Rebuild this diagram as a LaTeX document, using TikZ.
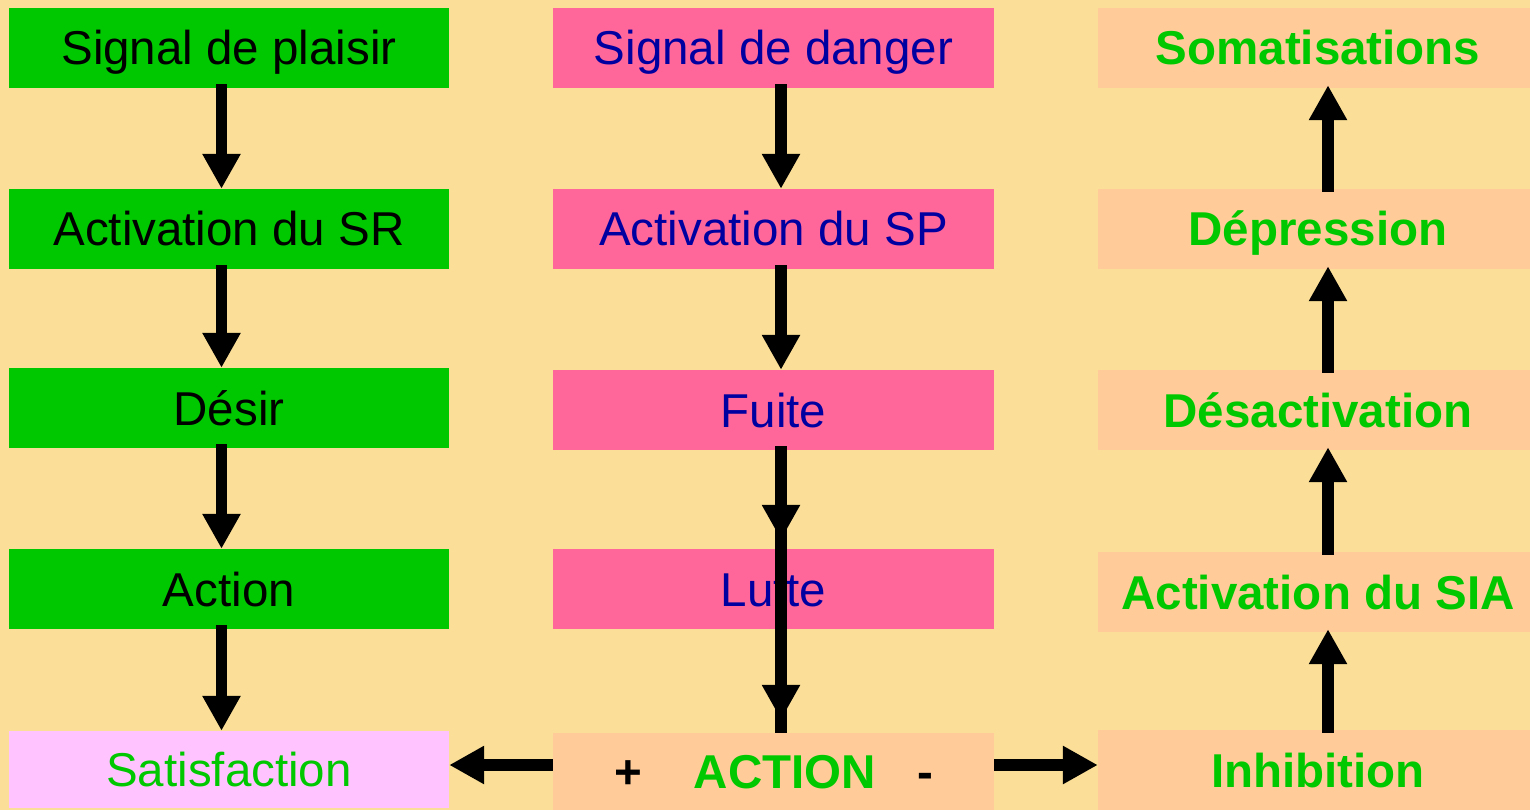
\documentclass[tikz,border=0pt]{standalone}
\usepackage{fontspec}
\setmainfont{Liberation Sans}
\usetikzlibrary{arrows.meta}

\definecolor{bgyellow}{RGB}{251,223,152}
\definecolor{boxgreen}{RGB}{0,200,0}
\definecolor{boxpink}{RGB}{255,102,153}
\definecolor{boxpeach}{RGB}{255,204,153}
\definecolor{boxlilac}{RGB}{255,196,255}
\definecolor{txtblue}{RGB}{0,0,160}
\definecolor{txtgreen}{RGB}{0,200,0}

\begin{document}
\begin{tikzpicture}[x=1pt,y=-1pt,
  base/.style={rectangle, inner sep=0pt, text height=34pt, text depth=0pt,
    font=\fontsize{47.5}{50}\selectfont},
  greenbox/.style={base, fill=boxgreen, text=black, minimum width=440pt, minimum height=80pt},
  pinkbox/.style={base, fill=boxpink, text=txtblue, minimum width=441pt, minimum height=80pt},
  peachbox/.style={base, fill=boxpeach, text=txtgreen, minimum width=440pt, minimum height=80pt,
    font=\fontsize{47.5}{50}\selectfont\bfseries},
  arr/.style={line width=11.5pt, -{Triangle[width=36pt,length=35pt]}},
  shaft/.style={line width=11.5pt},
]
% background
\fill[bgyellow] (0,0) rectangle (1530,810);
\useasboundingbox (0,0) rectangle (1530,810);

% left column: pleasure path
\node[greenbox] (sp) at (229,48) {Signal de plaisir};
\node[greenbox] (asr) at (229,229) {Activation du SR};
\node[greenbox] (des) at (229,408) {Désir};
\node[greenbox] (act) at (229,589) {Action};
\node[base, fill=boxlilac, text=txtgreen, minimum width=440pt, minimum height=77pt] (sat) at (229,769.5) {Satisfaction};

% middle column: danger path
\node[pinkbox] (sd) at (773.5,48) {Signal de danger};
\node[pinkbox] (asp) at (773.5,229) {Activation du SP};
\node[pinkbox] (fui) at (773.5,410) {Fuite};
\node[pinkbox] (lut) at (773.5,589) {Lutte};
\node[base, fill=boxpeach, minimum width=441pt, minimum height=77pt,
  font=\fontsize{47.5}{50}\selectfont\bfseries] (actn) at (773.5,771.5)
  {\textcolor{black}{+}\hspace{52pt}\textcolor{txtgreen}{ACTION}\hspace{41pt}\textcolor{black}{-}};

% right column: inhibition path (boxes run past the right edge)
\node[peachbox] (som) at (1318,48) {Somatisations};
\node[peachbox] (dep) at (1318,229) {Dépression};
\node[peachbox] (dsa) at (1318,410) {Désactivation};
\node[peachbox] (sia) at (1318,592) {Activation du SIA};
\node[peachbox] (inh) at (1318,770) {Inhibition};

% left arrows
\draw[arr] ([xshift=-7.5pt,yshift=4pt]sp.south) -- ([xshift=-7.5pt]asr.north);
\draw[arr] ([xshift=-7.5pt,yshift=4pt]asr.south) -- ([xshift=-7.5pt]des.north);
\draw[arr] ([xshift=-7.5pt,yshift=4pt]des.south) -- ([xshift=-7.5pt]act.north);
\draw[arr] ([xshift=-7.5pt,yshift=4pt]act.south) -- ([xshift=-7.5pt]sat.north);

% middle arrows
\draw[arr] ([xshift=7.5pt,yshift=4pt]sd.south) -- ([xshift=7.5pt]asp.north);
\draw[arr] ([xshift=7.5pt,yshift=4pt]asp.south) -- ([xshift=7.5pt]fui.north);
\draw[shaft] ([xshift=7.5pt,yshift=4pt]fui.south) -- ([xshift=7.5pt]actn.north);
\draw[arr] ([xshift=7.5pt,yshift=4pt]fui.south) -- ([xshift=7.5pt,yshift=9pt]lut.north);
\draw[arr] ([xshift=7.5pt]lut.south) -- ([xshift=7.5pt,yshift=13pt]actn.north);

% horizontal arrows from ACTION
\draw[arr] ([yshift=6.5pt]actn.west) -- ([yshift=4.5pt]sat.east);
\draw[arr] ([yshift=6.5pt]actn.east) -- ([yshift=5pt]inh.west);

% right arrows (upwards)
\draw[arr] ([xshift=10pt,yshift=-3pt]inh.north) -- ([xshift=10pt,yshift=3pt]sia.south);
\draw[arr] ([xshift=10pt,yshift=-3pt]sia.north) -- ([xshift=10pt,yshift=3pt]dsa.south);
\draw[arr] ([xshift=10pt,yshift=-3pt]dsa.north) -- ([xshift=10pt,yshift=3pt]dep.south);
\draw[arr] ([xshift=10pt,yshift=-3pt]dep.north) -- ([xshift=10pt,yshift=3pt]som.south);
\end{tikzpicture}
\end{document}
